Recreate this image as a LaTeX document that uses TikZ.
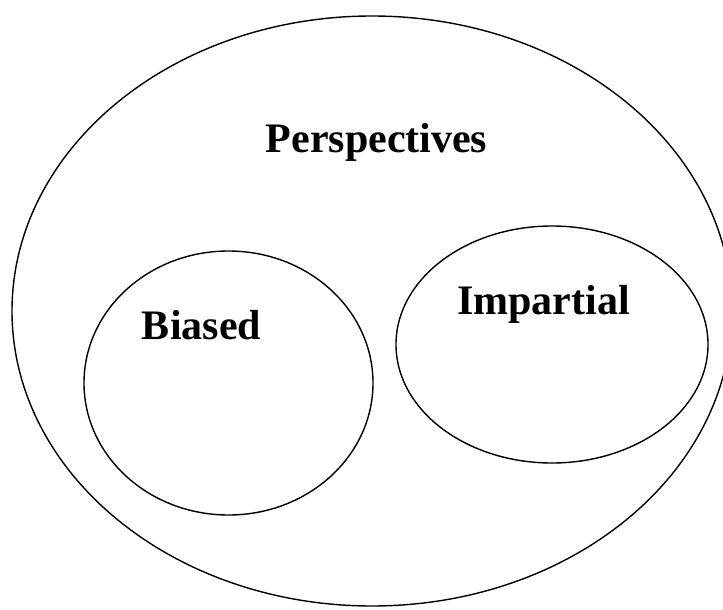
\documentclass[tikz,border=0pt]{standalone}
\usepackage{fontspec}
\setmainfont{Liberation Serif}
\begin{document}
\begin{tikzpicture}[x=1pt,y=-1pt,
  ring/.style={draw=black,line width=1.4pt},
  label/.style={font=\fontsize{42}{48}\selectfont\bfseries,anchor=base,inner sep=0pt}]
\useasboundingbox (0,0) rectangle (723,610);
\clip (0,0) rectangle (723,610);
\draw[ring] (372,311) ellipse [x radius=360, y radius=295];
\draw[ring] (228.5,383) ellipse [x radius=144.5, y radius=132];
\draw[ring] (552,344.5) ellipse [x radius=156, y radius=118.5];
\node[label] (persp) at (376.5,152) {Perspectives};
\node[label] (biased) at (201.5,339) {Biased};
\node[label] (impartial) at (543.5,314) {Impartial};
\end{tikzpicture}
\end{document}
